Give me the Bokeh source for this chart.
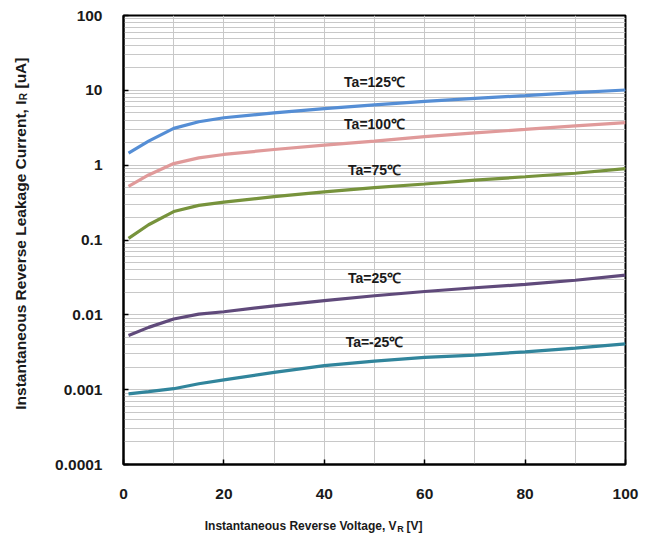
import math
from bokeh.plotting import figure
from bokeh.models import Range1d, FixedTicker, Label
from bokeh.embed import file_html
from bokeh.resources import INLINE

# ---- data ----
vr = [1, 5, 10, 15, 20, 30, 40, 50, 60, 70, 80, 90, 100]
ir_125 = [1.45, 2.1, 3.1, 3.8, 4.3, 5.0, 5.7, 6.4, 7.1, 7.8, 8.5, 9.3, 10.1]
ir_100 = [0.52, 0.74, 1.05, 1.25, 1.39, 1.62, 1.85, 2.1, 2.4, 2.7, 3.0, 3.35, 3.7]
ir_75 = [0.105, 0.16, 0.24, 0.29, 0.32, 0.38, 0.44, 0.50, 0.56, 0.63, 0.70, 0.78, 0.90]
ir_25 = [0.0053, 0.0068, 0.0088, 0.0102, 0.011, 0.0132, 0.0155, 0.018, 0.0205, 0.023, 0.0255, 0.029, 0.034]
ir_m25 = [0.00088, 0.00094, 0.00103, 0.0012, 0.00135, 0.0017, 0.0021, 0.0024, 0.0027, 0.0029, 0.0032, 0.0036, 0.0041]

series_names = ["Ta=125℃", "Ta=100℃", "Ta=75℃", "Ta=25℃", "Ta=-25℃"]
series_values = [ir_125, ir_100, ir_75, ir_25, ir_m25]
series_colors = ["#558ED5", "#E09A9A", "#77933C", "#604A7B", "#31859C"]
label_x = [50, 50, 50, 50, 50]
label_y = [13.1, 3.5, 0.85, 0.0315, 0.0043]

x_ticks = [0, 20, 40, 60, 80, 100]
x_minor = [10, 30, 50, 70, 90]
y_ticks = [0.0001, 0.001, 0.01, 0.1, 1, 10, 100]
y_tick_labels = ["0.0001", "0.001", "0.01", "0.1", "1", "10", "100"]

FONT = "Liberation Sans"
TXT = "#1a1a1a"

p = figure(frame_width=502, frame_height=449, y_axis_type="log",
           x_range=Range1d(0, 100), y_range=Range1d(0.0001, 100),
           output_backend="svg", toolbar_location=None,
           min_border_left=123, min_border_right=15,
           min_border_top=15, min_border_bottom=70)
p.background_fill_color = "white"
p.border_fill_color = "white"
p.outline_line_color = "black"
p.outline_line_width = 2

y_minor = [d * 10.0 ** k for k in range(-4, 2) for d in range(2, 10)]
p.xaxis.ticker = FixedTicker(ticks=x_ticks, minor_ticks=x_minor)
p.yaxis.ticker = FixedTicker(ticks=y_ticks, minor_ticks=y_minor)
p.yaxis.major_label_overrides = {v: s for v, s in zip(y_ticks, y_tick_labels)}

for ax in (p.xaxis, p.yaxis):
    ax.axis_line_color = "black"
    ax.axis_line_width = 2
    ax.major_tick_in = 5
    ax.major_tick_out = 0
    ax.major_tick_line_color = "black"
    ax.major_tick_line_width = 1.5
    ax.minor_tick_line_color = None
    ax.major_label_text_font = FONT
    ax.major_label_text_font_style = "bold"
    ax.major_label_text_font_size = "15.5px"
    ax.major_label_text_color = TXT
p.xaxis.major_label_standoff = 20
p.yaxis.major_label_standoff = 17

for g in (p.xgrid, p.ygrid):
    g.grid_line_color = "#c8c8c8"
    g.grid_line_width = 1
    g.minor_grid_line_color = "#c8c8c8"
    g.minor_grid_line_width = 1

for name, vals, col in zip(series_names, series_values, series_colors):
    p.line(vr, vals, line_color=col, line_width=3.2)

for name, lx, ly in zip(series_names, label_x, label_y):
    p.add_layout(Label(x=lx, y=ly, text=name, text_align="center", text_baseline="middle",
                       text_font=FONT, text_font_style="bold", text_font_size="14px",
                       text_color=TXT))

# axis titles with subscripts: anchors in data units (outside the frame), placed in side
# panels so that they are not clipped; pieces shifted in pixels
def lab(side, x, y, text, size, align, dx=0, dy=0, angle=0.0):
    p.add_layout(Label(x=x, y=y, x_offset=dx, y_offset=dy, text=text,
                       angle=angle, text_align=align, text_baseline="middle",
                       text_font=FONT, text_font_style="bold", text_font_size=size,
                       text_color=TXT), side)

rot = math.pi / 2
# x title
xt_x, xt_y = 54.4, 1.53e-5
lab("below", xt_x, xt_y, "Instantaneous Reverse Voltage, V", "12px", "right")
lab("below", xt_x, xt_y, "R", "9px", "center", dx=4, dy=-3)
lab("right", xt_x, xt_y, "[V]", "12px", "left", dx=10)
# y title
yt_x, yt_y = -20.6, 7.31
lab("left", yt_x, yt_y, "Instantaneous Reverse Leakage Current, I", "15.5px", "right", angle=rot)
lab("below", yt_x, yt_y, "R", "10px", "center", dx=3, dy=4, angle=rot)
lab("left", yt_x, yt_y, "[uA]", "15.5px", "left", dy=12, angle=rot)

open("out.html", "w").write(file_html(p, INLINE))
